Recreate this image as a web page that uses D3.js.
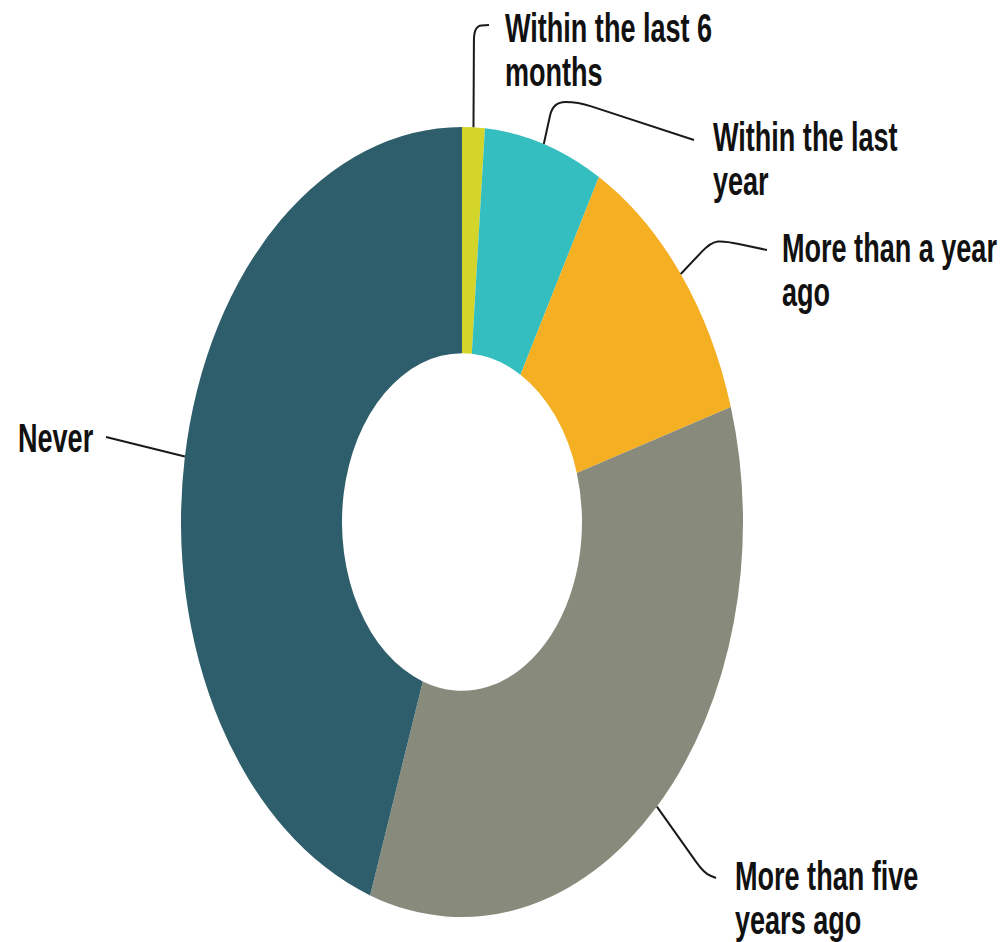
<!DOCTYPE html>
<html>
<head>
<meta charset="utf-8">
<script src="https://cdn.jsdelivr.net/npm/d3@7"></script>
<style>
  html, body { margin: 0; padding: 0; background: #fff; }
  svg { display: block; }
  .label { font-family: "Liberation Sans", Arial, sans-serif; font-weight: bold; font-size: 33.4px; fill: #111; }
</style>
</head>
<body>
<svg id="chart" width="1005" height="942"></svg>
<script>
// Survey answers, clockwise from 12 o'clock
const categories = [
  ["Within the last 6", "months"],
  ["Within the last", "year"],
  ["More than a year", "ago"],
  ["More than five", "years ago"],
  ["Never"]
];
const shares = [1.3, 6.8, 12.2, 35.0, 44.7];
const colors = ["#d3d52b", "#34bec0", "#f5af22", "#888a7b", "#2e5e6b"];

// Layout: ring geometry and label placement
const W = 1005, H = 942;
const cx = 462, cy = 522;
const outerR = 281, innerR = 120;
const stretchY = 1.406;          // the ring is drawn as a tall ellipse
const textScaleX = 0.81, textScaleY = 1.21;   // condensed, tall lettering
const lineGap = 36.5;

// label anchor (left, first baseline) and leader-line bends
const labelPos = [
  { x: 505, y: 42,  bends: [[474, 26], [489, 25]] },
  { x: 713, y: 151, bends: [[553, 102], [578, 102], [694, 140]] },
  { x: 782, y: 262, bends: [[711, 242], [725, 241], [767, 250]] },
  { x: 735, y: 890, bends: [[704, 873], [716, 878]] },
  { x: 18,  y: 452, bends: [[106, 437]] }
];

const data = categories.map((c, i) => ({ lines: c, value: shares[i], color: colors[i], pos: labelPos[i] }));

const svg = d3.select("#chart");

const pie = d3.pie().sort(null).value(d => d.value).startAngle(0).endAngle(2 * Math.PI);
const arcs = pie(data);
const arc = d3.arc().innerRadius(innerR).outerRadius(outerR);

const ring = svg.append("g")
  .attr("transform", `translate(${cx},${cy}) scale(1,${stretchY})`);

ring.selectAll("path")
  .data(arcs)
  .join("path")
  .attr("d", arc)
  .attr("fill", d => d.data.color);

// polyline with softened corners
function rounded(points, r) {
  let p = `M${points[0][0]},${points[0][1]}`;
  for (let i = 1; i < points.length - 1; i++) {
    const [x0, y0] = points[i - 1], [x1, y1] = points[i], [x2, y2] = points[i + 1];
    const d1 = Math.hypot(x1 - x0, y1 - y0), d2 = Math.hypot(x2 - x1, y2 - y1);
    const r1 = Math.min(r, d1 / 2), r2 = Math.min(r, d2 / 2);
    const ax = x1 - (x1 - x0) / d1 * r1, ay = y1 - (y1 - y0) / d1 * r1;
    const bx = x1 + (x2 - x1) / d2 * r2, by = y1 + (y2 - y1) / d2 * r2;
    p += `L${ax},${ay}Q${x1},${y1} ${bx},${by}`;
  }
  const last = points[points.length - 1];
  p += `L${last[0]},${last[1]}`;
  return p;
}

const leaders = svg.append("g");
arcs.forEach(a => {
  const mid = (a.startAngle + a.endAngle) / 2;
  const sx = cx + outerR * Math.sin(mid);
  const sy = cy - outerR * Math.cos(mid) * stretchY;
  const pts = [[sx, sy], ...a.data.pos.bends];
  leaders.append("path")
    .attr("d", rounded(pts, 14))
    .attr("fill", "none")
    .attr("stroke", "#1a1a1a")
    .attr("stroke-width", 2);
});

const labels = svg.append("g");
data.forEach(d => {
  const t = labels.append("text")
    .attr("class", "label")
    .attr("transform", `translate(${d.pos.x},${d.pos.y}) scale(${textScaleX},${textScaleY})`);
  d.lines.forEach((ln, i) => {
    t.append("tspan").attr("x", 0).attr("y", i * lineGap).text(ln);
  });
});
</script>
</body>
</html>
